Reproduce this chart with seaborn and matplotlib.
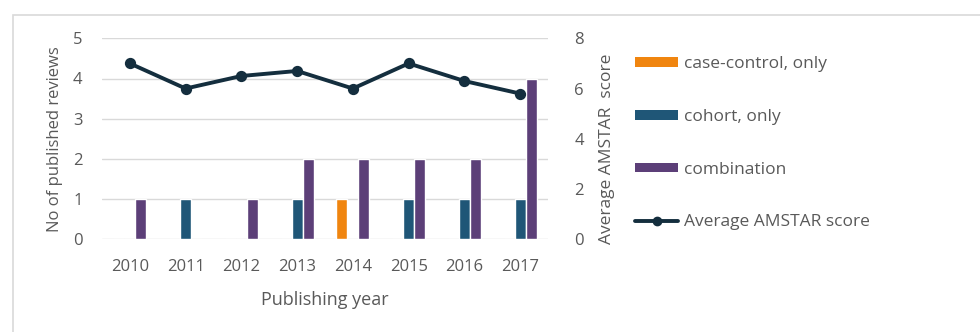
import matplotlib
matplotlib.use("Agg")
import matplotlib.pyplot as plt
from matplotlib.patches import Patch, Rectangle
from matplotlib.lines import Line2D
import seaborn as sns
import pandas as pd

years = ["2010", "2011", "2012", "2013", "2014", "2015", "2016", "2017"]
case_control = [0, 0, 0, 0, 1, 0, 0, 0]
cohort = [0, 1, 0, 1, 0, 1, 1, 1]
combination = [1, 0, 1, 2, 2, 2, 2, 4]
amstar = [7.0, 6.0, 6.5, 6.7, 6.0, 7.0, 6.3, 5.8]

series_names = ["case-control, only", "cohort, only", "combination"]
line_name = "Average AMSTAR score"
colors = {"case-control, only": "#F0850F", "cohort, only": "#1F5677", "combination": "#5C3F78"}
line_color = "#142E3E"
text_color = "#595959"
grid_color = "#D9D9D9"

sns.set_theme(style="white")
plt.rcParams["font.family"] = ["Open Sans", "DejaVu Sans"]

rows = []
for name, vals in zip(series_names, [case_control, cohort, combination]):
    for y, v in zip(years, vals):
        rows.append({"year": y, "type": name, "count": v})
df = pd.DataFrame(rows)
df_line = pd.DataFrame({"year": years, "score": amstar})

fig = plt.figure(figsize=(9.8, 3.32), dpi=100)
ax = fig.add_axes([102 / 980, 1 - 239.3 / 332, (548 - 102) / 980, (239.3 - 38.3) / 332])

sns.barplot(data=df, x="year", y="count", hue="type", hue_order=series_names,
            palette=colors, width=0.59, gap=0, ax=ax, legend=False, saturation=1)

ax2 = ax.twinx()
sns.pointplot(data=df_line, x="year", y="score", ax=ax2, color=line_color,
              markers="o", linewidth=2.8, markersize=6)

ax.set_xlim(-0.5, 7.5)
ax.set_ylim(0, 5)
ax2.set_ylim(0, 8)
ax.set_yticks([0, 1, 2, 3, 4, 5])
ax2.set_yticks([0, 2, 4, 6, 8])
ax.set_axisbelow(True)
ax.yaxis.grid(True, color=grid_color, linewidth=1)
ax.xaxis.grid(False)
ax2.grid(False)
for a in (ax, ax2):
    for s in a.spines.values():
        s.set_visible(False)
    a.tick_params(length=0, colors=text_color, labelsize=12)
ax.tick_params(axis="x", pad=14)
ax.tick_params(axis="y", pad=14)
ax2.tick_params(axis="y", pad=19)

ax.set_xlabel("Publishing year", color=text_color, fontsize=13, labelpad=12)
ax.set_ylabel("No of published reviews", color=text_color, fontsize=12, labelpad=7)
ax2.set_xlabel("")
ax2.set_ylabel("Average AMSTAR  score", color=text_color, fontsize=12.5)
ax2.yaxis.set_label_coords((599 - 102) / 446, 0.45)

handles = [Patch(facecolor=colors[n], edgecolor="none") for n in series_names]
handles.append(Line2D([0], [0], color=line_color, lw=2.8, marker="o", markersize=6))
labels = series_names + [line_name]
leg = fig.legend(handles, labels, loc="upper left", bbox_to_anchor=(635 / 980, 1 - 56 / 332),
                 frameon=False, fontsize=12.5, handlelength=2.5, handleheight=0.5,
                 handletextpad=0.35, labelspacing=2.12, borderpad=0, borderaxespad=0)
for t in leg.get_texts():
    t.set_color(text_color)

fig.patches.append(Rectangle((13 / 980, -0.1), 1.2, 1.1 - 15 / 332, transform=fig.transFigure,
                             fill=False, edgecolor=grid_color, linewidth=1.2))

fig.savefig("out.png", dpi=100)
